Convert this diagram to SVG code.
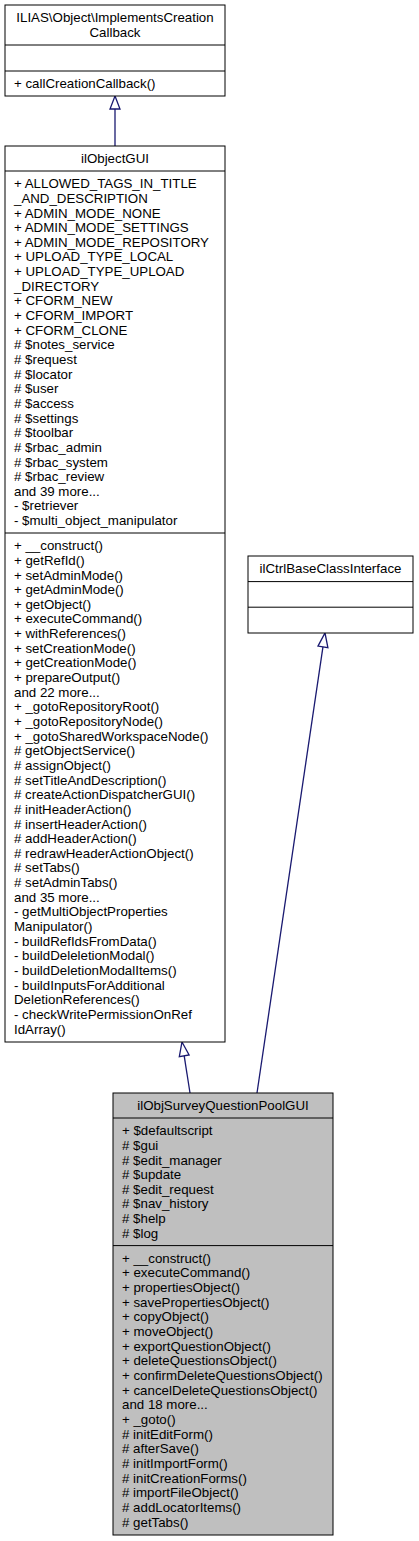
<svg xmlns="http://www.w3.org/2000/svg" width="419" height="1541" viewBox="0 0 419 1541">
<style>
.box{fill:#ffffff;stroke:#000000;stroke-width:1}
.cur{fill:#bfbfbf;stroke:#000000;stroke-width:1}
.div{stroke:#000000;stroke-width:1}
text{font-family:"Liberation Sans",Arial,Helvetica,sans-serif;font-size:13.3px;fill:#000000}
.c{text-anchor:middle}
.edge{fill:none;stroke:#191970;stroke-width:1.3}
.head{fill:#ffffff;stroke:#191970;stroke-width:1.3}
</style>
<rect width="419" height="1541" fill="#ffffff"/>
<g id="connectors">
<line class="edge" x1="115" y1="146" x2="115" y2="109"/>
<polygon class="head" points="115,96 120,109 110,109"/>
<line class="edge" x1="190" y1="1093" x2="184.2" y2="1055.8"/>
<polygon class="head" points="182,1042 189.1,1055 179.3,1056.6"/>
<line class="edge" x1="257" y1="1093" x2="322.95" y2="646.85"/>
<polygon class="head" points="325,633 327.9,647.6 318,646.1"/>
</g>
<g id="node-ImplementsCreationCallback">
<rect class="box" x="5" y="5" width="220" height="91"/>
<line class="div" x1="5" y1="45" x2="225" y2="45"/>
<line class="div" x1="5" y1="71" x2="225" y2="71"/>
<text class="c" x="115" y="22.2">ILIAS\Object\ImplementsCreation</text>
<text class="c" x="115" y="36.9">Callback</text>
<text x="14" y="88">+ callCreationCallback()</text>
</g>
<g id="node-ilObjectGUI">
<rect class="box" x="5" y="146" width="220" height="896"/>
<line class="div" x1="5" y1="171" x2="225" y2="171"/>
<line class="div" x1="5" y1="533" x2="225" y2="533"/>
<text class="c" x="115" y="163.2">ilObjectGUI</text>
<text x="14" y="188.2"><tspan x="14">+ ALLOWED_TAGS_IN_TITLE</tspan><tspan x="14" dy="14.65">_AND_DESCRIPTION</tspan><tspan x="14" dy="14.65">+ ADMIN_MODE_NONE</tspan><tspan x="14" dy="14.65">+ ADMIN_MODE_SETTINGS</tspan><tspan x="14" dy="14.65">+ ADMIN_MODE_REPOSITORY</tspan><tspan x="14" dy="14.65">+ UPLOAD_TYPE_LOCAL</tspan><tspan x="14" dy="14.65">+ UPLOAD_TYPE_UPLOAD</tspan><tspan x="14" dy="14.65">_DIRECTORY</tspan><tspan x="14" dy="14.65">+ CFORM_NEW</tspan><tspan x="14" dy="14.65">+ CFORM_IMPORT</tspan><tspan x="14" dy="14.65">+ CFORM_CLONE</tspan><tspan x="14" dy="14.65"># $notes_service</tspan><tspan x="14" dy="14.65"># $request</tspan><tspan x="14" dy="14.65"># $locator</tspan><tspan x="14" dy="14.65"># $user</tspan><tspan x="14" dy="14.65"># $access</tspan><tspan x="14" dy="14.65"># $settings</tspan><tspan x="14" dy="14.65"># $toolbar</tspan><tspan x="14" dy="14.65"># $rbac_admin</tspan><tspan x="14" dy="14.65"># $rbac_system</tspan><tspan x="14" dy="14.65"># $rbac_review</tspan><tspan x="14" dy="14.65">and 39 more...</tspan><tspan x="14" dy="14.65">- $retriever</tspan><tspan x="14" dy="14.65">- $multi_object_manipulator</tspan></text>
<text x="14" y="550.2"><tspan x="14">+ __construct()</tspan><tspan x="14" dy="14.65">+ getRefId()</tspan><tspan x="14" dy="14.65">+ setAdminMode()</tspan><tspan x="14" dy="14.65">+ getAdminMode()</tspan><tspan x="14" dy="14.65">+ getObject()</tspan><tspan x="14" dy="14.65">+ executeCommand()</tspan><tspan x="14" dy="14.65">+ withReferences()</tspan><tspan x="14" dy="14.65">+ setCreationMode()</tspan><tspan x="14" dy="14.65">+ getCreationMode()</tspan><tspan x="14" dy="14.65">+ prepareOutput()</tspan><tspan x="14" dy="14.65">and 22 more...</tspan><tspan x="14" dy="14.65">+ _gotoRepositoryRoot()</tspan><tspan x="14" dy="14.65">+ _gotoRepositoryNode()</tspan><tspan x="14" dy="14.65">+ _gotoSharedWorkspaceNode()</tspan><tspan x="14" dy="14.65"># getObjectService()</tspan><tspan x="14" dy="14.65"># assignObject()</tspan><tspan x="14" dy="14.65"># setTitleAndDescription()</tspan><tspan x="14" dy="14.65"># createActionDispatcherGUI()</tspan><tspan x="14" dy="14.65"># initHeaderAction()</tspan><tspan x="14" dy="14.65"># insertHeaderAction()</tspan><tspan x="14" dy="14.65"># addHeaderAction()</tspan><tspan x="14" dy="14.65"># redrawHeaderActionObject()</tspan><tspan x="14" dy="14.65"># setTabs()</tspan><tspan x="14" dy="14.65"># setAdminTabs()</tspan><tspan x="14" dy="14.65">and 35 more...</tspan><tspan x="14" dy="14.65">- getMultiObjectProperties</tspan><tspan x="14" dy="14.65">Manipulator()</tspan><tspan x="14" dy="14.65">- buildRefIdsFromData()</tspan><tspan x="14" dy="14.65">- buildDeleletionModal()</tspan><tspan x="14" dy="14.65">- buildDeletionModalItems()</tspan><tspan x="14" dy="14.65">- buildInputsForAdditional</tspan><tspan x="14" dy="14.65">DeletionReferences()</tspan><tspan x="14" dy="14.65">- checkWritePermissionOnRef</tspan><tspan x="14" dy="14.65">IdArray()</tspan></text>
</g>
<g id="node-ilCtrlBaseClassInterface">
<rect class="box" x="248" y="556" width="165" height="77"/>
<line class="div" x1="248" y1="581.6" x2="413" y2="581.6"/>
<line class="div" x1="248" y1="607.2" x2="413" y2="607.2"/>
<text class="c" x="330.5" y="573.2">ilCtrlBaseClassInterface</text>
</g>
<g id="node-ilObjSurveyQuestionPoolGUI">
<rect class="cur" x="113" y="1093" width="220" height="442"/>
<line class="div" x1="113" y1="1118" x2="333" y2="1118"/>
<line class="div" x1="113" y1="1245.6" x2="333" y2="1245.6"/>
<text class="c" x="223" y="1110.2">ilObjSurveyQuestionPoolGUI</text>
<text x="122" y="1135.2"><tspan x="122">+ $defaultscript</tspan><tspan x="122" dy="14.65"># $gui</tspan><tspan x="122" dy="14.65"># $edit_manager</tspan><tspan x="122" dy="14.65"># $update</tspan><tspan x="122" dy="14.65"># $edit_request</tspan><tspan x="122" dy="14.65"># $nav_history</tspan><tspan x="122" dy="14.65"># $help</tspan><tspan x="122" dy="14.65"># $log</tspan></text>
<text x="122" y="1262.8"><tspan x="122">+ __construct()</tspan><tspan x="122" dy="14.65">+ executeCommand()</tspan><tspan x="122" dy="14.65">+ propertiesObject()</tspan><tspan x="122" dy="14.65">+ savePropertiesObject()</tspan><tspan x="122" dy="14.65">+ copyObject()</tspan><tspan x="122" dy="14.65">+ moveObject()</tspan><tspan x="122" dy="14.65">+ exportQuestionObject()</tspan><tspan x="122" dy="14.65">+ deleteQuestionsObject()</tspan><tspan x="122" dy="14.65">+ confirmDeleteQuestionsObject()</tspan><tspan x="122" dy="14.65">+ cancelDeleteQuestionsObject()</tspan><tspan x="122" dy="14.65">and 18 more...</tspan><tspan x="122" dy="14.65">+ _goto()</tspan><tspan x="122" dy="14.65"># initEditForm()</tspan><tspan x="122" dy="14.65"># afterSave()</tspan><tspan x="122" dy="14.65"># initImportForm()</tspan><tspan x="122" dy="14.65"># initCreationForms()</tspan><tspan x="122" dy="14.65"># importFileObject()</tspan><tspan x="122" dy="14.65"># addLocatorItems()</tspan><tspan x="122" dy="14.65"># getTabs()</tspan></text>
</g>
</svg>
